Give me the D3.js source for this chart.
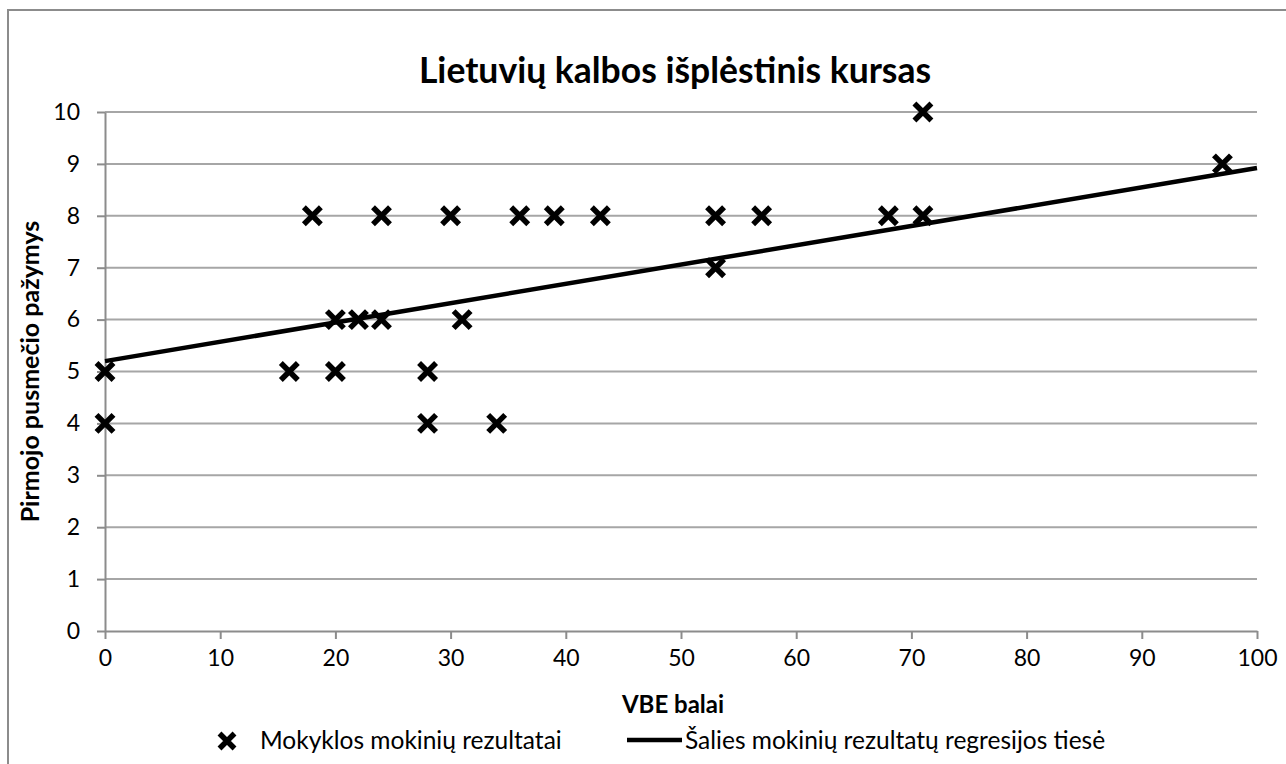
<!DOCTYPE html>
<html><head><meta charset="utf-8">
<script src="https://cdn.jsdelivr.net/npm/d3@7"></script>
<style>html,body{margin:0;padding:0;background:#fff;overflow:hidden}</style>
</head><body>
<svg id="c" width="1286" height="764"></svg>
<script>
const title = "Lietuvių kalbos išplėstinis kursas";
const xTitle = "VBE balai";
const yTitle = "Pirmojo pusmečio pažymys";
const seriesNames = ["Mokyklos mokinių rezultatai", "Šalies mokinių rezultatų regresijos tiesė"];
const vbe = [0, 0, 16, 18, 20, 20, 22, 24, 24, 28, 28, 30, 31, 34, 36, 39, 43, 53, 53, 57, 68, 71, 71, 97];
const grade = [5, 4, 5, 8, 6, 5, 6, 6, 8, 5, 4, 8, 6, 4, 8, 8, 8, 8, 7, 8, 8, 8, 10, 9];
const regX = [0, 100];
const regY = [5.2, 8.92];
const xTicks = [0, 10, 20, 30, 40, 50, 60, 70, 80, 90, 100];
const yTicks = [0, 1, 2, 3, 4, 5, 6, 7, 8, 9, 10];

const FONT = "Lato, 'Open Sans', sans-serif";
const svg = d3.select("#c");
const x = d3.scaleLinear().domain([0, 100]).range([105, 1257]);
const y = d3.scaleLinear().domain([0, 10]).range([631, 112]);

// outer border
svg.append("path").attr("d", "M8,764 L8,10 L1286,10").attr("fill", "none")
  .attr("stroke", "#8c8c8c").attr("stroke-width", 2);

// gridlines
svg.append("g").selectAll("line").data(yTicks.filter(d => d > 0)).join("line")
  .attr("x1", x(0)).attr("x2", x(100)).attr("y1", d => y(d)).attr("y2", d => y(d))
  .attr("stroke", "#a6a6a6").attr("stroke-width", 2);

// y axis
const ya = svg.append("g").attr("transform", `translate(${x(0)},0)`)
  .call(d3.axisLeft(y).tickValues(yTicks).tickSize(8).tickPadding(17).tickSizeOuter(0));
// x axis
const xa = svg.append("g").attr("transform", `translate(0,${y(0)})`)
  .call(d3.axisBottom(x).tickValues(xTicks).tickSize(8).tickPadding(11).tickSizeOuter(0));
[ya, xa].forEach(a => {
  a.select(".domain").attr("stroke", "#8c8c8c").attr("stroke-width", 2);
  a.selectAll(".tick line").attr("stroke", "#8c8c8c").attr("stroke-width", 2);
  a.selectAll("text").attr("font-family", FONT).attr("font-size", 23).attr("fill", "#000");
});

// regression line
svg.append("path").datum(regX.map((v, i) => [v, regY[i]]))
  .attr("d", d3.line().x(d => x(d[0])).y(d => y(d[1])))
  .attr("fill", "none").attr("stroke", "#000").attr("stroke-width", 4.5);

// markers
const cross = (s) => `M${-s},${-s}L${s},${s}M${-s},${s}L${s},${-s}`;
svg.append("g").selectAll("path").data(vbe.map((v, i) => [v, grade[i]])).join("path")
  .attr("transform", d => `translate(${x(d[0])},${y(d[1])})`)
  .attr("d", cross(8.5)).attr("stroke", "#000").attr("stroke-width", 5.5).attr("fill", "none");

// title
svg.append("text").attr("x", 675).attr("y", 83).attr("text-anchor", "middle")
  .attr("font-family", FONT).attr("font-weight", "bold").attr("font-size", 35.5).text(title);
// axis titles
svg.append("text").attr("x", 673).attr("y", 713).attr("text-anchor", "middle")
  .attr("font-family", FONT).attr("font-weight", "bold").attr("font-size", 24).text(xTitle);
svg.append("text").attr("transform", `translate(39,${(y(0) + y(10)) / 2}) rotate(-90)`)
  .attr("text-anchor", "middle")
  .attr("font-family", FONT).attr("font-weight", "bold").attr("font-size", 25).text(yTitle);

// legend
const lg = svg.append("g");
lg.append("path").attr("transform", "translate(227,741)").attr("d", cross(7.5))
  .attr("stroke", "#000").attr("stroke-width", 5.5).attr("fill", "none");
lg.append("text").attr("x", 260).attr("y", 749).attr("font-family", FONT).attr("font-size", 24.5).text(seriesNames[0]);
lg.append("line").attr("x1", 627).attr("x2", 682).attr("y1", 740).attr("y2", 740)
  .attr("stroke", "#000").attr("stroke-width", 4.5);
lg.append("text").attr("x", 685).attr("y", 749).attr("font-family", FONT).attr("font-size", 24.5).text(seriesNames[1]);
</script>
</body></html>
